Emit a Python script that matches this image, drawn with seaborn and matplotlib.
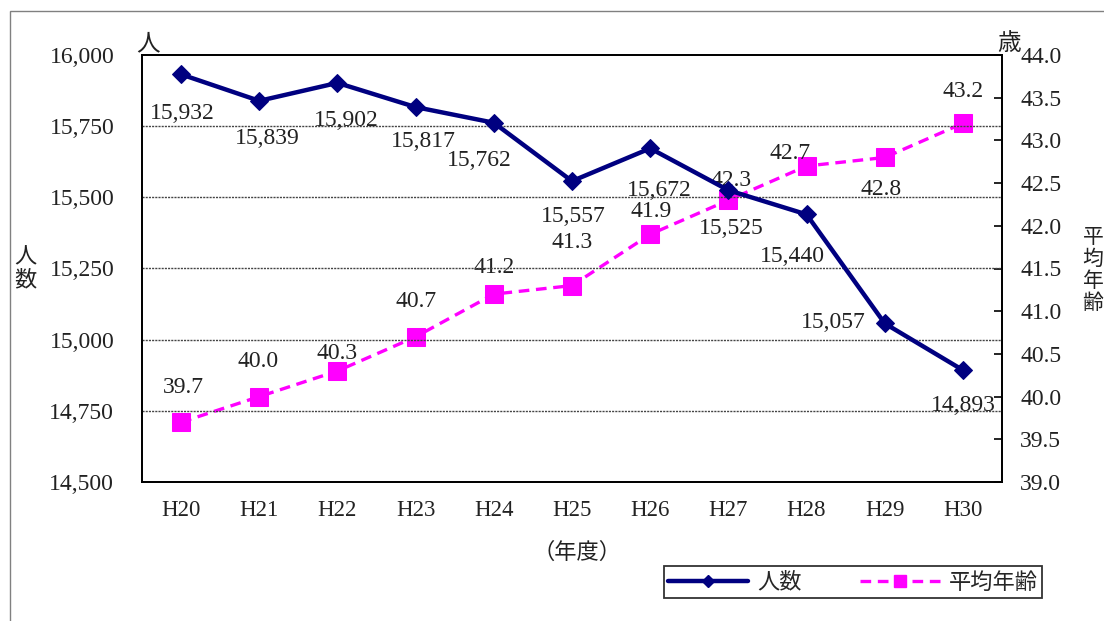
import matplotlib
matplotlib.use("Agg")
import matplotlib.pyplot as plt
import seaborn as sns
import pandas as pd
import numpy as np
from matplotlib.patches import Rectangle
from matplotlib.lines import Line2D

categories = ["H20", "H21", "H22", "H23", "H24", "H25", "H26", "H27", "H28", "H29", "H30"]
people = [15932, 15839, 15902, 15817, 15762, 15557, 15672, 15525, 15440, 15057, 14893]
age = [39.7, 40.0, 40.3, 40.7, 41.2, 41.3, 41.9, 42.3, 42.7, 42.8, 43.2]
people_labels = ["15,932", "15,839", "15,902", "15,817", "15,762", "15,557",
                 "15,672", "15,525", "15,440", "15,057", "14,893"]
left_ticks = [14500, 14750, 15000, 15250, 15500, 15750, 16000]
right_ticks = [39.0, 39.5, 40.0, 40.5, 41.0, 41.5, 42.0, 42.5, 43.0, 43.5, 44.0]

# label offsets in pixels (dx, dy; dy positive = up)
people_off = [(1, -39), (8, -38), (9, -38), (8, -34), (-15, -38), (1, -35),
              (9, -42), (3, -38), (-14, -42), (-51, 1), (0, -35)]
age_off = [(2, 35), (-1, 35), (0, 17), (0, 35), (0, 27), (0, 43),
           (1, 23), (3, 20), (-16, 13), (-4, -32), (0, 32)]

NAVY = "#000080"
MAG = "#FF00FF"
NUMFONT = ["Liberation Serif", "Noto Sans CJK JP"]
CJK = ["Noto Sans CJK JP", "DejaVu Sans"]

sns.set_style("white")
plt.rcParams["font.family"] = NUMFONT

W, H = 1104, 621
fig = plt.figure(figsize=(W / 100, H / 100), dpi=100)
fig.patch.set_facecolor("white")

# outer frame
fig.add_artist(Rectangle((10 / W, -0.05), 1.2, 1 - 11 / H + 0.05, transform=fig.transFigure,
                         fill=False, edgecolor="#808080", linewidth=1.0))

ax = fig.add_axes([142 / W, 1 - 482 / H, (1002 - 142) / W, (482 - 55) / H])
ax2 = ax.twinx()

df = pd.DataFrame({"year": categories, "people": people, "age": age})

sns.lineplot(data=df, x="year", y="people", ax=ax, color=NAVY, linewidth=3.2,
             marker="D", markersize=9, markeredgecolor=NAVY, sort=False, zorder=3)
sns.lineplot(data=df, x="year", y="age", ax=ax2, color=MAG, linewidth=2.4,
             marker="s", markersize=13, markeredgecolor=MAG, sort=False, zorder=3)
ax2.lines[0].set_dashes([3.2, 2.0])

ax.set_xlim(-0.5, len(categories) - 0.5)
ax.set_ylim(14500, 16000)
ax2.set_ylim(39.0, 44.0)

ax.set_yticks(left_ticks)
ax.set_yticklabels([f"{v:,}" for v in left_ticks])
ax2.set_yticks(right_ticks)
ax2.set_yticklabels([f"{v:.1f}" for v in right_ticks])

ax.set_xticks(range(len(categories)))
ax.set_xticklabels(categories)
ax.set_xticks(np.arange(0.5, len(categories) - 1, 1), minor=True)

ax.tick_params(axis="x", which="major", length=0, pad=13, labelsize=16.5, colors="#222222")
ax.tick_params(axis="x", which="minor", direction="in", length=6, width=1.2, color="black")
ax.tick_params(axis="y", length=0, pad=20, labelsize=17, colors="#222222")
ax2.tick_params(axis="y", direction="in", length=6, width=1.2, color="black", pad=13,
                labelsize=17, labelcolor="#222222")

ax.set_xlabel("")
ax.set_ylabel("")
ax2.set_ylabel("")

for a in (ax, ax2):
    for s in a.spines.values():
        s.set_color("black")
        s.set_linewidth(1.3)

for v in left_ticks[1:-1]:
    ax.axhline(v, color="#444444", linewidth=1.0, linestyle=(0, (1.5, 0.8)), zorder=1)

ax.set_zorder(ax2.get_zorder() + 1)
ax.patch.set_visible(False)

for i, (v, lab) in enumerate(zip(people, people_labels)):
    ax.annotate(lab, (categories[i], v), xytext=people_off[i], textcoords="offset pixels",
                ha="center", va="center", fontsize=17, color="#222222", zorder=5)
for i, v in enumerate(age):
    ax2.annotate(f"{v:.1f}", (categories[i], v), xytext=age_off[i], textcoords="offset pixels",
                 ha="center", va="center", fontsize=17, color="#222222", zorder=5)

# axis unit labels
fig.text(148 / W, 1 - 44 / H, "人", family=CJK, fontsize=17, ha="center", va="center", color="#222222")
fig.text(1009 / W, 1 - 44 / H, "歳", family=CJK, fontsize=17, ha="center", va="center", color="#222222")
fig.text(25 / W, 1 - 268 / H, "人\n数", family=CJK, fontsize=16, ha="center", va="center",
         linespacing=1.0, color="#222222")
fig.text(1093 / W, 1 - 270 / H, "平\n均\n年\n齢", family=CJK, fontsize=15, ha="center", va="center",
         linespacing=1.0, color="#222222")
fig.text(577 / W, 1 - 552 / H, "（年度）", family=CJK, fontsize=16, ha="center", va="center",
         color="#222222")

# legend
handles = [Line2D([], [], color=NAVY, linewidth=3.2, marker="D", markersize=6),
           Line2D([], [], color=MAG, linewidth=2.4, marker="s", markersize=9, dashes=[3.2, 2.0])]
leg = fig.legend(handles, ["人数", "平均年齢"], loc="center",
                 bbox_to_anchor=(853 / W, 1 - 582 / H), ncol=2, frameon=True, fancybox=False,
                 prop={"family": CJK, "size": 16}, handlelength=3.6, handletextpad=0.4,
                 columnspacing=2.6, borderpad=0.2, borderaxespad=0, edgecolor="black")
leg.get_frame().set_linewidth(1.3)

fig.savefig("out.png", dpi=100, facecolor="white")
